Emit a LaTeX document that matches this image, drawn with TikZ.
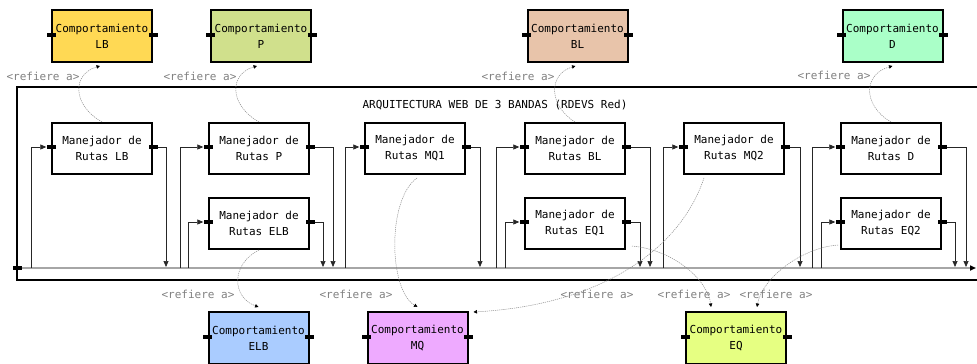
\documentclass[tikz,border=0pt]{standalone}
\usepackage{fontspec}
\setmonofont{DejaVu Sans Mono}
\usetikzlibrary{arrows.meta,calc}
\definecolor{colLB}{RGB}{255,217,84}
\definecolor{colP}{RGB}{208,224,140}
\definecolor{colBL}{RGB}{232,196,170}
\definecolor{colD}{RGB}{170,255,200}
\definecolor{colELB}{RGB}{170,204,255}
\definecolor{colMQ}{RGB}{238,170,255}
\definecolor{colEQ}{RGB}{230,255,130}
\begin{document}
\begin{tikzpicture}[x=1pt,y=-1pt,
  txt/.style={font=\ttfamily\fontsize{11}{16}\selectfont},
  behav/.style={draw=black, line width=2pt, minimum width=100pt, minimum height=52pt,
    inner sep=0pt, align=center, txt},
  router/.style={draw=black, fill=white, line width=2pt, minimum width=100pt,
    minimum height=51pt, inner sep=0pt, align=center, txt},
  port/.style={fill=black, minimum width=9pt, minimum height=4pt, inner sep=0pt},
  wire/.style={draw=black!85, line width=0.7pt, -{Triangle[length=6pt,width=5pt]}},
  bus/.style={draw=black!35, line width=1.5pt, -{Triangle[length=6pt,width=5pt,color=black]}},
  refers/.style={draw=black!45, line width=0.5pt, dash pattern=on 1.2pt off 0.9pt,
    -{Triangle[length=3.5pt,width=3.5pt,color=black]}},
  lbl/.style={txt, text=black!50}]
\useasboundingbox (0,0) rectangle (977,364);
\clip (0,0) rectangle (977,364);

% container of the architecture
\draw[line width=2pt] (1010,87) -- (17,87) -- (17,280) -- (1010,280);
\node[txt] (title) at (495,105) {ARQUITECTURA WEB DE 3 BANDAS (RDEVS Red)};

% behaviour boxes
\node[behav, fill=colLB] (cLB) at (102,36) {Comportamiento\\LB};
\node[behav, fill=colP] (cP) at (261,36) {Comportamiento\\P};
\node[behav, fill=colBL] (cBL) at (577.5,36) {Comportamiento\\BL};
\node[behav, fill=colD] (cD) at (892.5,36) {Comportamiento\\D};
\node[behav, fill=colELB] (cELB) at (258.5,338) {Comportamiento\\ELB};
\node[behav, fill=colMQ] (cMQ) at (417.5,338) {Comportamiento\\MQ};
\node[behav, fill=colEQ] (cEQ) at (736,338) {Comportamiento\\EQ};

% route handlers
\node[router] (mrLB) at (102,148.5) {Manejador de\\Rutas LB};
\node[router] (mrP) at (259,148.5) {Manejador de\\Rutas P};
\node[router] (mrELB) at (259,223.5) {Manejador de\\Rutas ELB};
\node[router] (mrMQ1) at (415,148.5) {Manejador de\\Rutas MQ1};
\node[router] (mrBL) at (575,148.5) {Manejador de\\Rutas BL};
\node[router] (mrEQ1) at (575,223.5) {Manejador de\\Rutas EQ1};
\node[router] (mrMQ2) at (734,148.5) {Manejador de\\Rutas MQ2};
\node[router] (mrD) at (891,148.5) {Manejador de\\Rutas D};
\node[router] (mrEQ2) at (891,223.5) {Manejador de\\Rutas EQ2};

% ports on both sides of every box
\foreach \n in {cLB,cP,cBL,cD,cELB,cMQ,cEQ,mrLB,mrP,mrELB,mrMQ1,mrBL,mrEQ1,mrMQ2,mrD,mrEQ2}{
  \node[port] (\n-i) at ([yshift=1.5pt]\n.west) {};
  \node[port] (\n-o) at ([yshift=1.5pt]\n.east) {};
}

% shared bus
\node[port] (busL) at (17,268) {};
\coordinate (busR) at (976,268);
\draw[bus] (busL.east) -- (busR);

% taps on the bus
\foreach \n/\x in {LB/31,P/180,ELB/188,MQ1/345,BL/496,EQ1/505,MQ2/663,D/812,EQ2/821}
  \coordinate (in\n) at (\x,268);
\foreach \n/\x in {LB/166,ELB/323,P/333,MQ1/480,EQ1/640,BL/650,MQ2/800,EQ2/955,D/966}
  \coordinate (out\n) at (\x,267);

\foreach \n in {LB,P,ELB,MQ1,BL,EQ1,MQ2,D,EQ2}{
  \draw[wire] (in\n) |- (mr\n-i.west);
  \draw[wire] (mr\n-o.east) -| (out\n);
}

% references to behaviours
\draw[refers] (mrLB.north) .. controls +(-30,-17) and +(-28,8) .. ([xshift=-2pt,yshift=-3pt]cLB.south);
\draw[refers] (mrP.north) .. controls +(-30,-17) and +(-28,8) .. ([xshift=-4pt,yshift=-3pt]cP.south);
\draw[refers] (mrBL.north) .. controls +(-27,-17) and +(-27,8) .. ([xshift=-2pt,yshift=-3pt]cBL.south);
\draw[refers] (mrD.north) .. controls +(-29,-17) and +(-29,8) .. ([yshift=-3pt]cD.south);
\draw[refers] (mrELB.south) .. controls +(-28,14) and +(-27,-10) .. ([yshift=4pt]cELB.north);
\draw[refers] ([xshift=2pt,yshift=-3pt]mrMQ1.south) .. controls +(-30,21) and +(-29,-17) .. ([yshift=4pt]cMQ.north);
\draw[refers] ([xshift=-30pt,yshift=-3pt]mrMQ2.south) .. controls +(-24,72) and +(127,-7) .. ([xshift=5pt,yshift=-1pt]cMQ.north east);
\draw[refers] ([xshift=6pt,yshift=4pt]mrEQ1.south east) .. controls +(43,4) and +(-3,-26) .. ([xshift=-25pt,yshift=4pt]cEQ.north);
\draw[refers] ([xshift=-2pt,yshift=5pt]mrEQ2.south west) .. controls +(-38,3) and +(5,-28) .. ([xshift=21pt,yshift=4pt]cEQ.north);

% reference labels
\node[lbl] (r1) at (43,76) {<refiere a>};
\node[lbl] (r2) at (200,76) {<refiere a>};
\node[lbl] (r3) at (518,76) {<refiere a>};
\node[lbl] (r4) at (834,75) {<refiere a>};
\node[lbl] (r5) at (198,294) {<refiere a>};
\node[lbl] (r6) at (356,294) {<refiere a>};
\node[lbl] (r7) at (597,294) {<refiere a>};
\node[lbl] (r8) at (694,294) {<refiere a>};
\node[lbl] (r9) at (776,294) {<refiere a>};
\end{tikzpicture}
\end{document}
